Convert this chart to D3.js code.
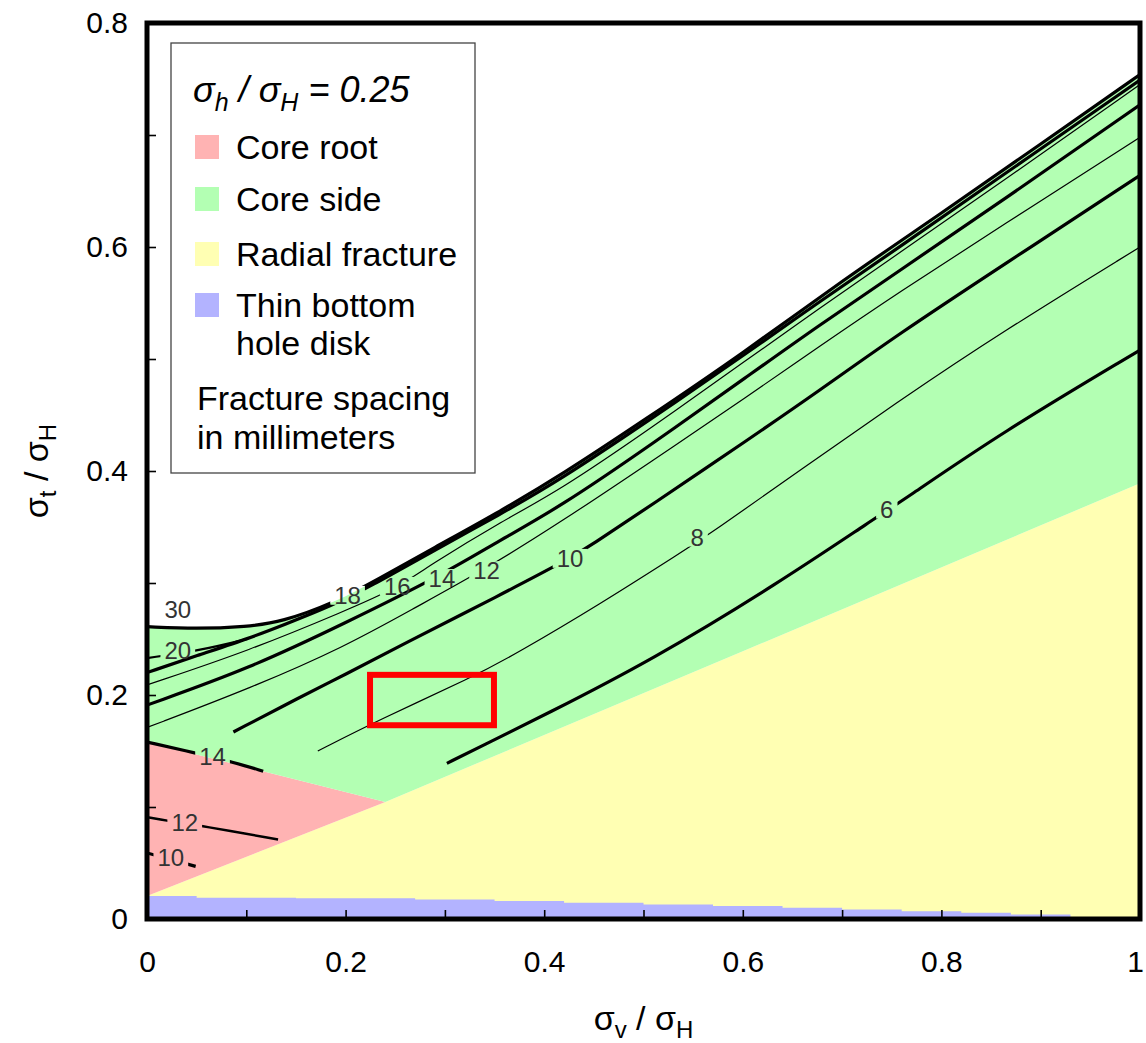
<!DOCTYPE html>
<html>
<head>
<meta charset="utf-8">
<script src="https://cdn.jsdelivr.net/npm/d3@7"></script>
<style>
  body { margin: 0; background: #fff; }
  text { font-family: "Liberation Sans", Arial, sans-serif; }
</style>
</head>
<body>
<svg id="chart" width="1146" height="1043"></svg>
<script>
// ---- data (x = sigma_v/sigma_H, y = sigma_t/sigma_H) ----
const xTickLabels = [0, 0.2, 0.4, 0.6, 0.8, 1];
const yTickLabels = [0, 0.2, 0.4, 0.6, 0.8];
const xMinorTicks = [0.1, 0.2, 0.3, 0.4, 0.5, 0.6, 0.7, 0.8, 0.9];
const yMinorTicks = [0.1, 0.2, 0.3, 0.4, 0.5, 0.6, 0.7];

// region boundaries
const topBoundary = [[0,0.261],[0.05,0.259],[0.1,0.261],[0.135,0.265],[0.19,0.283],[0.23,0.302],[0.29,0.332],[0.35,0.361],[0.42,0.398],[0.5,0.445],[0.6,0.505],[0.7,0.570],[0.8,0.630],[0.9,0.692],[1.0,0.754]];
const yellowTop = [[0,0.0205],[0.24,0.1045],[0.6,0.239],[1,0.389]];
const pinkTop = [[0,0.158],[0.24,0.1045]];
const blueX = [0, 0.05, 0.15, 0.27, 0.35, 0.42, 0.5, 0.57, 0.64, 0.7, 0.76, 0.82, 0.87, 0.93, 1.0];
const blueY = [0.0205, 0.019, 0.0185, 0.0175, 0.016, 0.0145, 0.013, 0.0115, 0.010, 0.0085, 0.007, 0.0055, 0.004, 0, 0];

// fracture spacing contours (mm)
const c20 = [[0,0.233],[0.055,0.240],[0.101,0.250]];
const c18 = [[0,0.220],[0.053,0.236],[0.104,0.251],[0.136,0.262],[0.187,0.280],[0.225,0.297],[0.285,0.327],[0.355,0.361],[0.416,0.392],[0.507,0.446],[0.607,0.507],[0.675,0.550],[0.758,0.600],[0.859,0.6625],[1.0,0.749]];
const c16 = [[0,0.209],[0.104,0.240],[0.199,0.275],[0.252,0.2955],[0.285,0.316],[0.355,0.354],[0.416,0.383],[0.507,0.438],[0.607,0.501],[0.675,0.544],[0.758,0.595],[0.859,0.657],[1.0,0.745]];
const c14 = [[0,0.191],[0.104,0.224],[0.199,0.264],[0.297,0.307],[0.355,0.338],[0.416,0.368],[0.507,0.423],[0.607,0.486],[0.675,0.529],[0.758,0.579],[0.859,0.640],[1.0,0.727]];
const c12 = [[0,0.171],[0.104,0.206],[0.199,0.243],[0.27,0.278],[0.342,0.313],[0.416,0.354],[0.507,0.408],[0.607,0.468],[0.675,0.510],[0.758,0.560],[0.859,0.618],[1.0,0.698]];
const c10 = [[0.087,0.167],[0.154,0.198],[0.199,0.218],[0.255,0.244],[0.355,0.289],[0.426,0.322],[0.446,0.333],[0.507,0.369],[0.607,0.429],[0.675,0.4705],[0.758,0.523],[0.859,0.582],[1.0,0.664]];
const c8 = [[0.172,0.150],[0.234,0.178],[0.328,0.216],[0.372,0.237],[0.456,0.281],[0.539,0.328],[0.569,0.345],[0.658,0.401],[0.758,0.463],[0.859,0.523],[1.0,0.600]];
const c6 = [[0.302,0.139],[0.336,0.154],[0.4,0.182],[0.508,0.231],[0.636,0.300],[0.735,0.359],[0.76,0.373],[0.86,0.434],[1.0,0.508]];
// core root contours
const p14 = [[0,0.158],[0.05,0.148],[0.087,0.140],[0.117,0.132]];
const p12 = [[0,0.091],[0.021,0.0875],[0.056,0.083],[0.132,0.071]];
const p10 = [[0,0.059],[0.049,0.047]];

// contour labels: text, x, y
const labelText = ["30", "20", "18", "16", "14", "12", "10", "8", "6", "14", "12", "10"];
const labelX = [0.031, 0.031, 0.202, 0.252, 0.297, 0.342, 0.426, 0.554, 0.745, 0.066, 0.038, 0.024];
const labelY = [0.276, 0.240, 0.289, 0.297, 0.304, 0.311, 0.322, 0.341, 0.366, 0.145, 0.086, 0.055];

// red highlight box [x0, x1, y0, y1]
const highlightBox = [0.2246, 0.3494, 0.173, 0.218];

const legendNames = ["Core root", "Core side", "Radial fracture", "Thin bottom|hole disk"];
const legendColors = ["#ffb3b3", "#b3ffb3", "#ffffb3", "#b3b3ff"];

// ---- chart ----
const svg = d3.select("#chart");
const width = 1146, height = 1043;
const margin = { top: 23, right: 6, bottom: 124, left: 147 };

const x = d3.scaleLinear().domain([0, 1]).range([margin.left, width - margin.right]);
const y = d3.scaleLinear().domain([0, 0.8]).range([height - margin.bottom, margin.top]);

const defs = svg.append("defs");
defs.append("clipPath").attr("id", "plot-clip")
  .append("rect")
  .attr("x", x(0)).attr("y", y(0.8))
  .attr("width", x(1) - x(0)).attr("height", y(0) - y(0.8));

const plot = svg.append("g").attr("clip-path", "url(#plot-clip)");

const smooth = d3.line().x(d => x(d[0])).y(d => y(d[1])).curve(d3.curveBasis);
const straight = d3.line().x(d => x(d[0])).y(d => y(d[1]));
const pts = arr => arr.map(p => "L" + x(p[0]) + "," + y(p[1])).join("");

// yellow - radial fracture
plot.append("path")
  .attr("d", straight([[0, 0]].concat(yellowTop, [[1, 0]])) + "Z")
  .attr("fill", legendColors[2]);

// pink - core root
plot.append("path")
  .attr("d", straight([yellowTop[0], pinkTop[0], pinkTop[1]]) + "Z")
  .attr("fill", legendColors[0]);

// green - core side
plot.append("path")
  .attr("d", smooth(topBoundary) + pts([[1, 0.389], [0.6, 0.239], [0.24, 0.1045], [0, 0.158]]) + "Z")
  .attr("fill", legendColors[1]);

// blue - thin bottom hole disk
const blue = blueX.map((v, i) => [v, blueY[i]]);
plot.append("path")
  .attr("d", d3.area().x(d => x(d[0])).y0(y(0)).y1(d => y(d[1])).curve(d3.curveStepAfter)(blue))
  .attr("fill", legendColors[3]);

// contour labels (drawn first so masks can measure them)
const labelsG = svg.append("g");
const labelNodes = labelText.map((t, i) =>
  labelsG.append("text")
    .attr("x", x(labelX[i])).attr("y", y(labelY[i]))
    .attr("text-anchor", "middle")
    .attr("dominant-baseline", "central")
    .attr("font-size", 24)
    .attr("fill", "#333")
    .text(t)
);

function makeMask(id, labelIdx) {
  const m = defs.append("mask").attr("id", id)
    .attr("maskUnits", "userSpaceOnUse")
    .attr("x", 0).attr("y", 0).attr("width", width).attr("height", height);
  m.append("rect").attr("width", width).attr("height", height).attr("fill", "#fff");
  labelIdx.forEach(i => {
    const b = labelNodes[i].node().getBBox();
    m.append("rect")
      .attr("x", b.x - 4).attr("y", b.y + b.height * 0.15)
      .attr("width", b.width + 8).attr("height", b.height * 0.7)
      .attr("fill", "#000");
  });
  return "url(#" + id + ")";
}

const contours = [
  { pts: topBoundary, w: 3.2, lab: [2] },
  { pts: c20, w: 2.2, lab: [1] },
  { pts: c18, w: 3.2, lab: [2] },
  { pts: c16, w: 1.2, lab: [3] },
  { pts: c14, w: 3.2, lab: [4] },
  { pts: c12, w: 1.2, lab: [5] },
  { pts: c10, w: 3.2, lab: [6] },
  { pts: c8, w: 1.2, lab: [7] },
  { pts: c6, w: 3.2, lab: [8] },
  { pts: p14, w: 3.2, lab: [9] },
  { pts: p12, w: 2.4, lab: [10] },
  { pts: p10, w: 3.2, lab: [11] }
];

contours.forEach((c, i) => {
  plot.append("path")
    .attr("d", smooth(c.pts))
    .attr("fill", "none")
    .attr("stroke", "#000")
    .attr("stroke-width", c.w)
    .attr("mask", makeMask("gap" + i, c.lab));
});

labelsG.raise();

// red highlight box
svg.append("rect")
  .attr("x", x(highlightBox[0])).attr("y", y(highlightBox[3]))
  .attr("width", x(highlightBox[1]) - x(highlightBox[0]))
  .attr("height", y(highlightBox[2]) - y(highlightBox[3]))
  .attr("fill", "none").attr("stroke", "#ff0000").attr("stroke-width", 6);

// ---- legend ----
const lg = svg.append("g");
lg.append("rect")
  .attr("x", 171).attr("y", 43).attr("width", 304).attr("height", 430)
  .attr("fill", "#fff").attr("stroke", "#444").attr("stroke-width", 1.3);

const title = lg.append("text").attr("x", 193).attr("y", 102)
  .attr("font-size", 36).attr("font-style", "italic");
title.append("tspan").text("σ");
title.append("tspan").attr("font-size", 25).attr("dy", 9).text("h");
title.append("tspan").attr("dy", -9).text(" / σ");
title.append("tspan").attr("font-size", 25).attr("dy", 9).text("H");
title.append("tspan").attr("dy", -9).text(" = 0.25");

const rowY = [135, 187, 242, 293];
legendNames.forEach((name, i) => {
  lg.append("rect")
    .attr("x", 195).attr("y", rowY[i]).attr("width", 24).attr("height", 24)
    .attr("fill", legendColors[i]);
  name.split("|").forEach((line, j) => {
    lg.append("text")
      .attr("x", 236).attr("y", rowY[i] + 24 + j * 38)
      .attr("font-size", 34)
      .text(line);
  });
});
lg.append("text").attr("x", 197).attr("y", 410).attr("font-size", 34).text("Fracture spacing");
lg.append("text").attr("x", 197).attr("y", 449).attr("font-size", 34).text("in millimeters");

// ---- axes ----
const fmt = d3.format("~g");

const xLab = svg.append("g")
  .attr("transform", `translate(0,${y(0)})`)
  .call(d3.axisBottom(x).tickValues(xTickLabels).tickFormat(fmt).tickSize(0).tickPadding(32));
xLab.select(".domain").remove();
xLab.selectAll("text").attr("font-size", 30).attr("font-family", "Liberation Sans, Arial, sans-serif").attr("fill", "#000");
xLab.selectAll("text").filter(d => d === 1).attr("dx", -5);

const yLab = svg.append("g")
  .attr("transform", `translate(${x(0)},0)`)
  .call(d3.axisLeft(y).tickValues(yTickLabels).tickFormat(fmt).tickSize(0).tickPadding(19));
yLab.select(".domain").remove();
yLab.selectAll("text").attr("font-size", 30).attr("font-family", "Liberation Sans, Arial, sans-serif").attr("fill", "#000");

// inside minor ticks
const xTk = svg.append("g")
  .attr("transform", `translate(0,${y(0)})`)
  .call(d3.axisBottom(x).tickValues(xMinorTicks).tickFormat("").tickSize(-9));
xTk.select(".domain").remove();
xTk.selectAll("line").attr("stroke-width", 1.6);

const yTk = svg.append("g")
  .attr("transform", `translate(${x(0)},0)`)
  .call(d3.axisLeft(y).tickValues(yMinorTicks).tickFormat("").tickSize(-9));
yTk.select(".domain").remove();
yTk.selectAll("line").attr("stroke-width", 1.6);

// frame
svg.append("rect")
  .attr("x", x(0)).attr("y", y(0.8))
  .attr("width", x(1) - x(0)).attr("height", y(0) - y(0.8))
  .attr("fill", "none").attr("stroke", "#000").attr("stroke-width", 5);

// axis titles
const xt = svg.append("text")
  .attr("x", (x(0) + x(1)) / 2).attr("y", 1030)
  .attr("text-anchor", "middle").attr("font-size", 34);
xt.append("tspan").text("σ");
xt.append("tspan").attr("font-size", 24).attr("dy", 8).text("v");
xt.append("tspan").attr("dy", -8).text(" / σ");
xt.append("tspan").attr("font-size", 24).attr("dy", 8).text("H");

const yt = svg.append("text")
  .attr("transform", `translate(48,${(y(0) + y(0.8)) / 2}) rotate(-90)`)
  .attr("text-anchor", "middle").attr("font-size", 34);
yt.append("tspan").text("σ");
yt.append("tspan").attr("font-size", 24).attr("dy", 8).text("t");
yt.append("tspan").attr("dy", -8).text(" / σ");
yt.append("tspan").attr("font-size", 24).attr("dy", 8).text("H");
</script>
</body>
</html>
